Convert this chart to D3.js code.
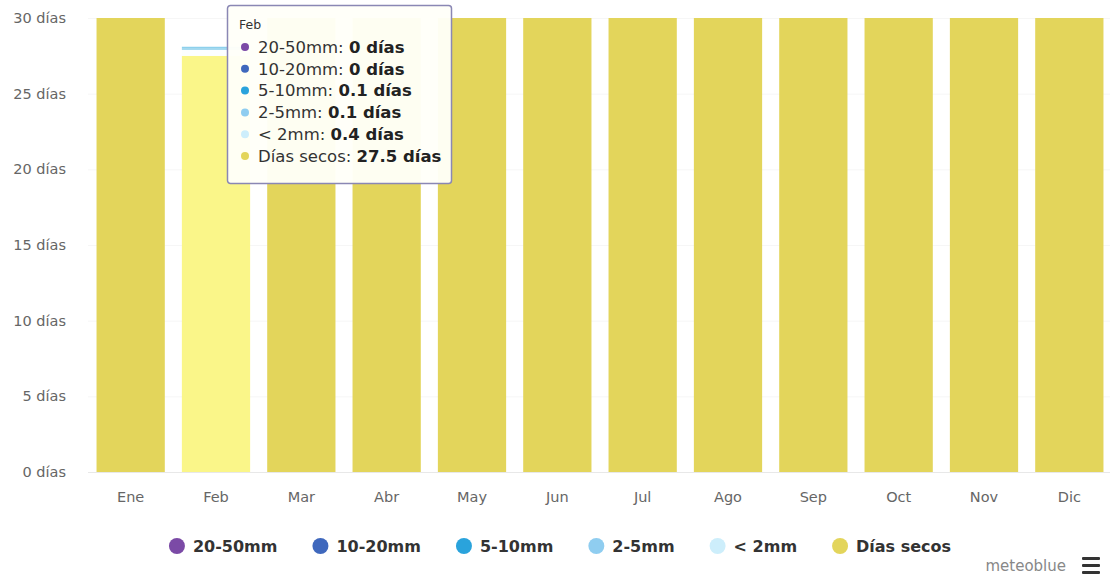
<!DOCTYPE html>
<html>
<head>
<meta charset="utf-8">
<script src="https://cdn.jsdelivr.net/npm/d3@7"></script>
<style>
  body { margin: 0; background: #fff; }
  svg { display: block; font-family: "DejaVu Sans", Verdana, sans-serif; }
</style>
</head>
<body>
<div id="chart"></div>
<script>
const months = ["Ene", "Feb", "Mar", "Abr", "May", "Jun", "Jul", "Ago", "Sep", "Oct", "Nov", "Dic"];
const diasSecos = [30, 27.5, 30, 30, 30, 30, 30, 30, 30, 30, 30, 30];
const menos2mm = [0, 0.4, 0, 0, 0, 0, 0, 0, 0, 0, 0, 0];
const de2a5mm = [0, 0.1, 0, 0, 0, 0, 0, 0, 0, 0, 0, 0];
const de5a10mm = [0, 0.1, 0, 0, 0, 0, 0, 0, 0, 0, 0, 0];
const de10a20mm = [0, 0, 0, 0, 0, 0, 0, 0, 0, 0, 0, 0];
const de20a50mm = [0, 0, 0, 0, 0, 0, 0, 0, 0, 0, 0, 0];
const yTicks = [0, 5, 10, 15, 20, 25, 30];
const hoverMonth = "Feb";

// bottom to top stacking order
const series = [
  { key: "secos", name: "Días secos", values: diasSecos, color: "#e3d55b", hover: "#faf689" },
  { key: "lt2", name: "< 2mm", values: menos2mm, color: "#cdeefb", hover: "#fbfeff" },
  { key: "m2", name: "2-5mm", values: de2a5mm, color: "#8fcdf0", hover: "#8ed0ec" },
  { key: "m5", name: "5-10mm", values: de5a10mm, color: "#2aa3dc", hover: "#8ed0ec" },
  { key: "m10", name: "10-20mm", values: de10a20mm, color: "#3f68bd", hover: "#4a74c8" },
  { key: "m20", name: "20-50mm", values: de20a50mm, color: "#7b4aa6", hover: "#8a5ab5" }
];
const legendOrder = ["m20", "m10", "m5", "m2", "lt2", "secos"];

const W = 1110, H = 575;
const svg = d3.select("#chart").append("svg").attr("width", W).attr("height", H);

const x = d3.scaleBand().domain(months).range([88, 1112]).paddingInner(0.2).paddingOuter(0.1);
const y = d3.scaleLinear().domain([0, 30]).range([472, 18]);

const rows = months.map((m, i) => {
  const r = { month: m };
  series.forEach(s => r[s.key] = s.values[i]);
  return r;
});
const stacked = d3.stack().keys(series.map(s => s.key))(rows);

// grid
svg.append("g").selectAll("line").data(yTicks).enter().append("line")
  .attr("x1", 88).attr("x2", 1112)
  .attr("y1", d => y(d) + 0.5).attr("y2", d => y(d) + 0.5)
  .attr("stroke", d => d === 0 ? "#e8e8e8" : "#f6f6f6");

// bars
stacked.forEach((layer, li) => {
  const s = series[li];
  svg.append("g").selectAll("rect").data(layer).enter().append("rect")
    .attr("x", d => x(d.data.month))
    .attr("width", x.bandwidth())
    .attr("y", d => y(d[1]))
    .attr("height", d => y(d[0]) - y(d[1]))
    .attr("fill", d => d.data.month === hoverMonth ? s.hover : s.color);
});

// y axis labels
svg.append("g").selectAll("text").data(yTicks).enter().append("text")
  .attr("x", 66).attr("y", d => y(d))
  .attr("dy", "0.35em")
  .attr("text-anchor", "end")
  .attr("fill", "#666")
  .style("font-size", "14.5px")
  .text(d => `${d} días`);

// x axis labels
svg.append("g").selectAll("text").data(months).enter().append("text")
  .attr("x", d => x(d) + x.bandwidth() / 2)
  .attr("y", 497)
  .attr("dy", "0.35em")
  .attr("text-anchor", "middle")
  .attr("fill", "#666")
  .style("font-size", "14.5px")
  .text(d => d);

// legend
const legend = svg.append("g");
let lx = 0;
legendOrder.forEach(k => {
  const s = series.find(d => d.key === k);
  const item = legend.append("g").attr("transform", `translate(${lx},0)`);
  item.append("circle").attr("cx", 8).attr("cy", 0).attr("r", 8).attr("fill", s.color);
  const t = item.append("text").attr("x", 24).attr("y", 0).attr("dy", "0.35em")
    .attr("fill", "#333").style("font-size", "16px").style("font-weight", "bold")
    .text(s.name);
  lx += 24 + t.node().getComputedTextLength() + 35;
});
const legendW = lx - 35;
legend.attr("transform", `translate(${560 - legendW / 2},546)`);

// credits + menu
svg.append("text").attr("x", 1066).attr("y", 566).attr("dy", "0.35em")
  .attr("text-anchor", "end").attr("fill", "#888").style("font-size", "15px")
  .text("meteoblue");
const menu = svg.append("g").attr("transform", "translate(1082,557)");
[0, 7, 14].forEach(dy => menu.append("rect").attr("x", 0).attr("y", dy).attr("width", 18).attr("height", 3).attr("rx", 1).attr("fill", "#333"));

// tooltip
const idx = months.indexOf(hoverMonth);
const tip = svg.append("g").attr("transform", "translate(227,5)");
tip.append("rect").attr("x", 0.5).attr("y", 0.5).attr("width", 224).attr("height", 178)
  .attr("rx", 3).attr("fill", "#fffff9").attr("fill-opacity", 0.96)
  .attr("stroke", "#8a87b4").attr("stroke-width", 1.5);
tip.append("text").attr("x", 12).attr("y", 20).attr("dy", "0.35em")
  .attr("fill", "#333").style("font-size", "12.5px").text(hoverMonth);
const tipRows = legendOrder.map(k => series.find(d => d.key === k));
tipRows.forEach((s, i) => {
  const ry = 42 + i * 21.8;
  tip.append("circle").attr("cx", 18).attr("cy", ry).attr("r", 4).attr("fill", s.color);
  const t = tip.append("text").attr("x", 31).attr("y", ry).attr("dy", "0.35em")
    .attr("fill", "#333").style("font-size", "16.5px");
  t.append("tspan").text(`${s.name}: `);
  t.append("tspan").style("font-weight", "bold").attr("fill", "#222")
    .text(`${s.values[idx]} días`);
});
</script>
</body>
</html>
